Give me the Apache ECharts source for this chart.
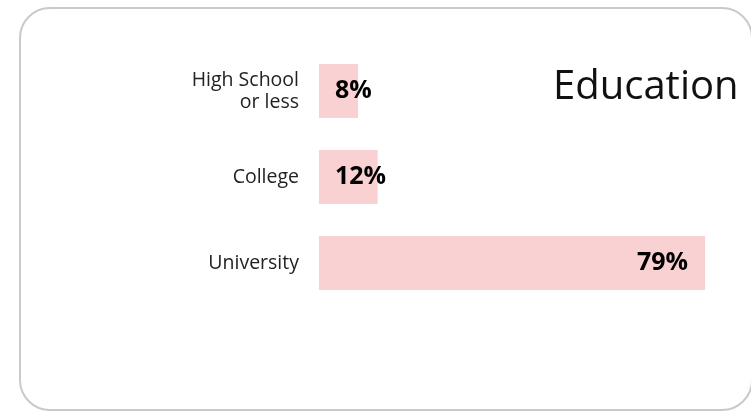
<!DOCTYPE html>
<html><head><meta charset="utf-8">
<script src="https://cdn.jsdelivr.net/npm/echarts@6/dist/echarts.min.js"></script>
<style>html,body{margin:0;padding:0;background:#fff}#c{width:751px;height:412px}</style>
</head><body><div id="c"></div>
<script>
const categories = ['High School\nor less', 'College', 'University'];
const values = [8, 12, 79];
const valueLabels = ['8%', '12%', '79%'];

const chart = echarts.init(document.getElementById('c'));
const data = values.map((v, i) => ({
  value: v,
  label: v > 40
    ? { position: 'insideRight', distance: 17, formatter: valueLabels[i] }
    : { position: 'insideLeft', distance: 16, formatter: valueLabels[i] }
}));
chart.setOption({
  animation: false,
  graphic: [{
    type: 'rect', z: -1,
    shape: { x: 20, y: 8, width: 732, height: 402, r: 30 },
    style: { fill: '#fff', stroke: '#c9c9c9', lineWidth: 2 }
  }, {
    type: 'text', left: 553, top: 68,
    style: { text: 'Education', font: '40px "Open Sans", sans-serif', fill: '#111' }
  }],
  grid: { left: 319, top: 48, width: 391, height: 258 },
  xAxis: { type: 'value', min: 0, max: 80, show: false },
  yAxis: {
    type: 'category', inverse: true, data: categories,
    axisLine: { show: false }, axisTick: { show: false },
    axisLabel: { margin: 20, fontSize: 19.5, lineHeight: 22, color: '#222', fontFamily: '"Open Sans", sans-serif', align: 'right' }
  },
  series: [{
    type: 'bar', data: data, barWidth: 54,
    itemStyle: { color: '#f9d1d3' },
    label: { show: true, fontSize: 25, fontWeight: 'bold', color: '#000', fontFamily: '"Open Sans", sans-serif' }
  }]
});
</script></body></html>
